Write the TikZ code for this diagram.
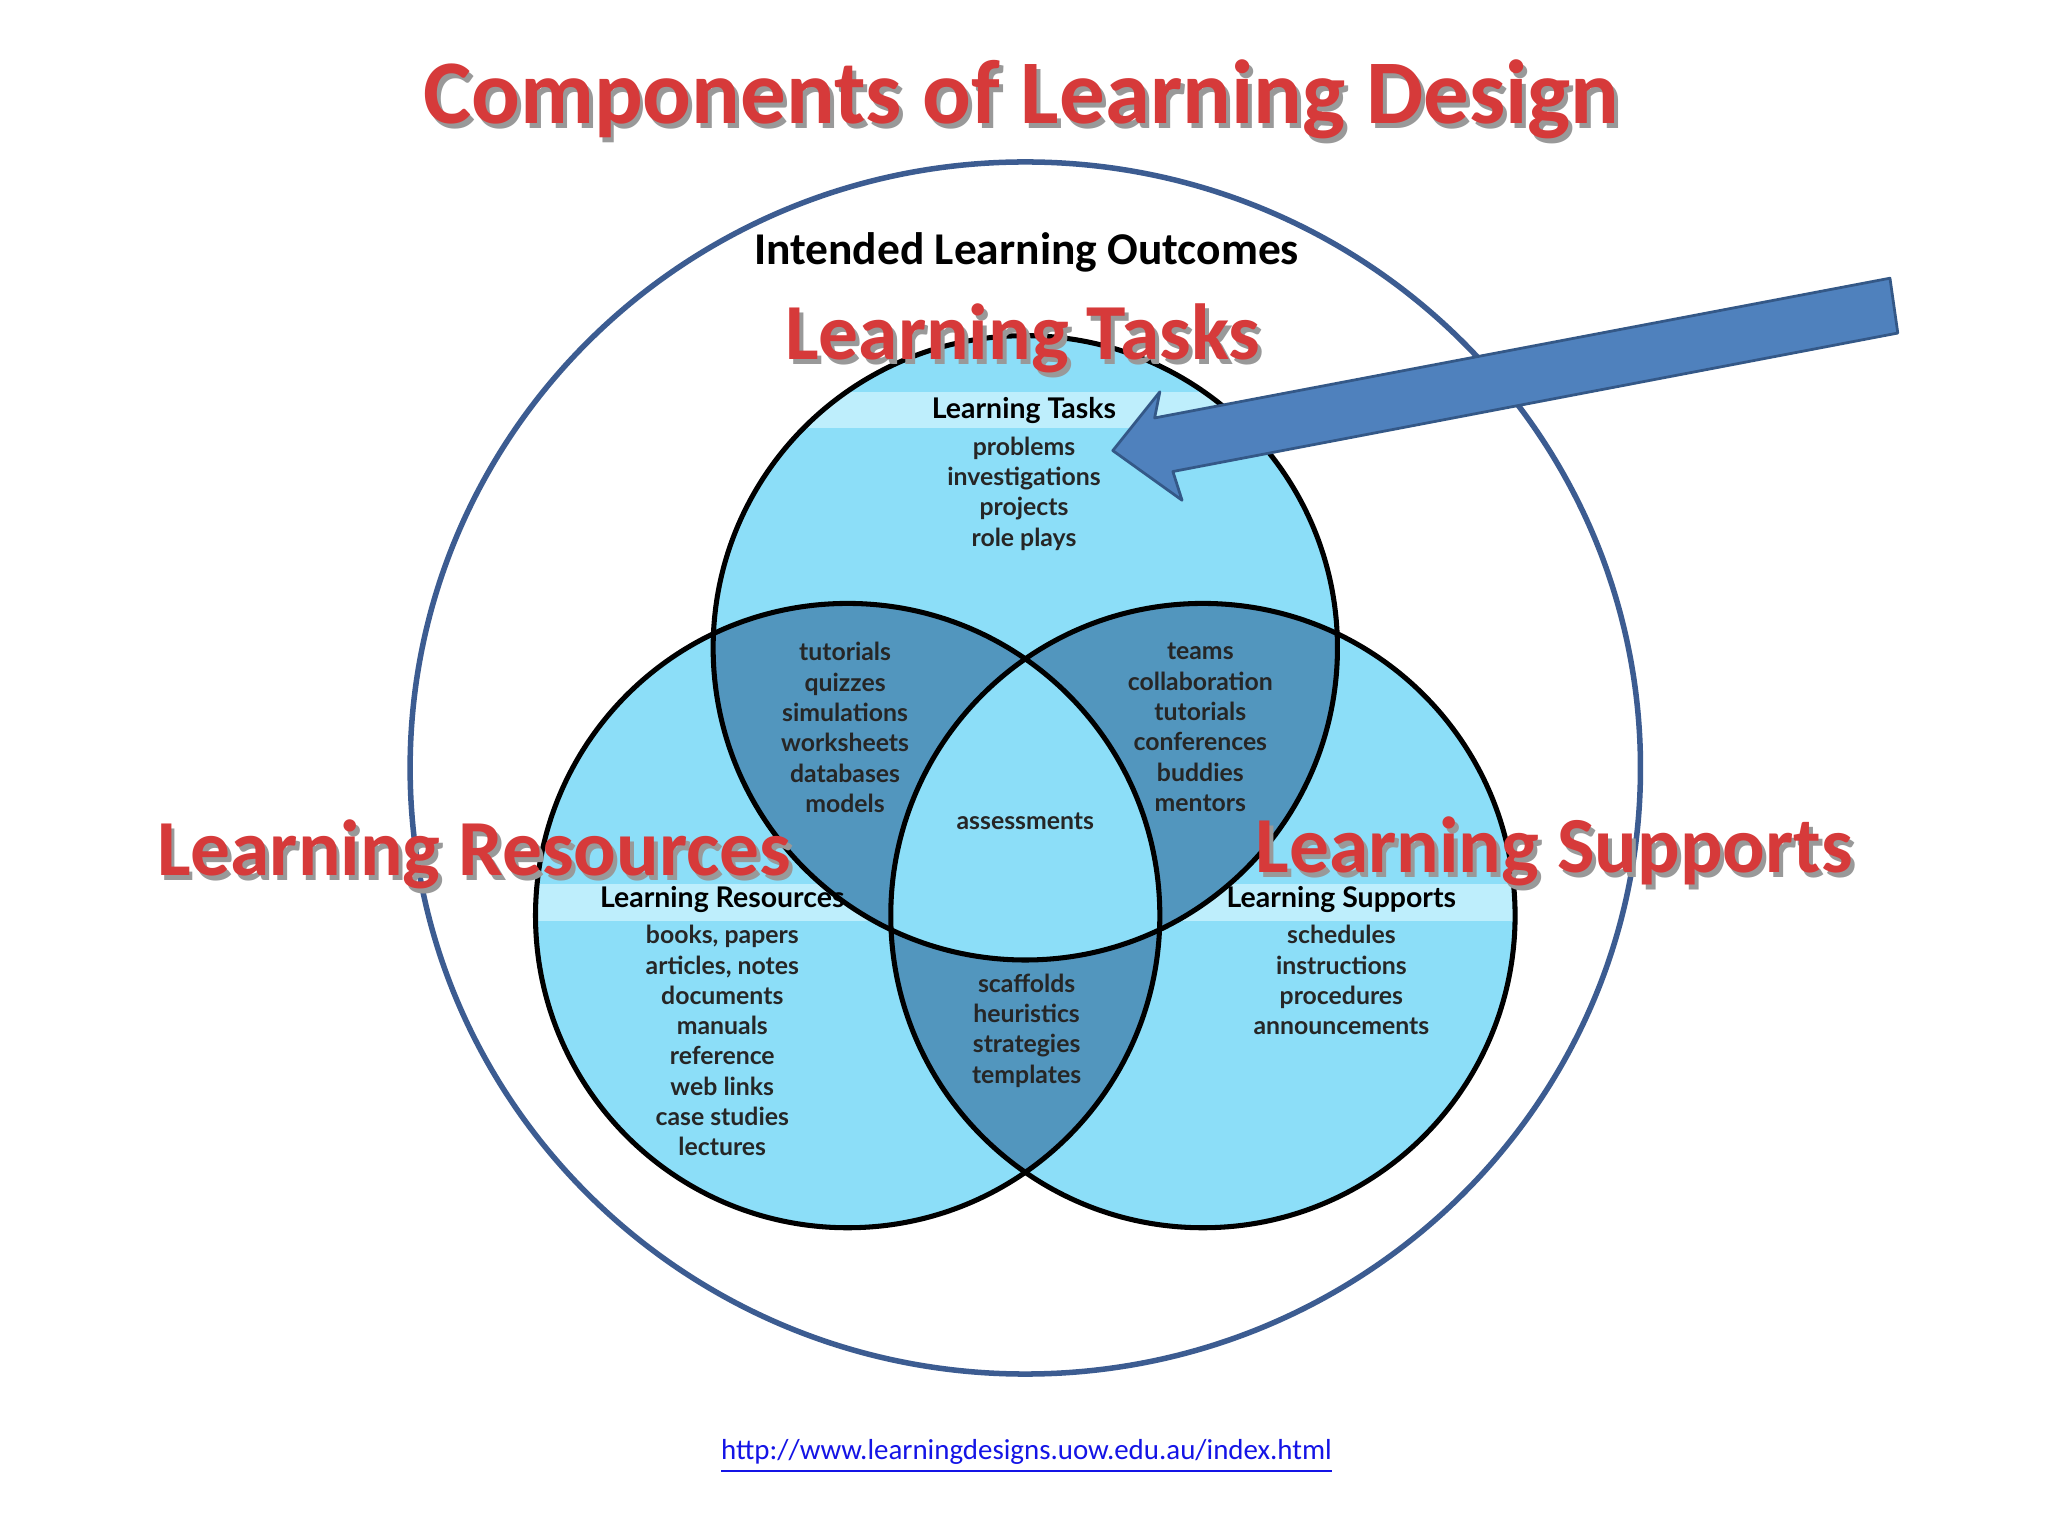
\documentclass[tikz,border=0pt]{standalone}
\usepackage{fontspec}
\setmainfont{Carlito}
\newfontfamily\venn{Lato}
\newfontfamily\vennb{Lato Black}
\definecolor{lightc}{RGB}{140,222,248}
\definecolor{bandc}{RGB}{190,238,252}
\definecolor{darkc}{RGB}{82,150,190}
\definecolor{outerc}{RGB}{60,92,145}
\definecolor{redt}{RGB}{214,58,58}
\definecolor{arrowc}{RGB}{79,129,189}
\definecolor{arrowd}{RGB}{52,88,135}
\definecolor{urlc}{RGB}{20,20,230}
\tikzset{
 bigred/.style={font=\fontsize{17.3}{20}\selectfont\bfseries,text=redt},
 shadowt/.style={font=\fontsize{17.3}{20}\selectfont\bfseries,text=black!40},
 vtxt/.style={font=\venn\fontsize{5.4}{6.6}\selectfont\bfseries,align=center,text=black!85},
 vhead/.style={font=\venn\fontsize{6.2}{7}\selectfont\bfseries,text=black},
 ring/.style={draw=black,line width=1.1pt}
}
\begin{document}
\begin{tikzpicture}[x=0.01cm,y=-0.01cm]
\useasboundingbox (0,0) rectangle (1568,1176);
\fill[white] (0,0) rectangle (1568,1176);
% outer circle
\draw[outerc,line width=1.2pt] (785,588) ellipse (471 and 464);
\coordinate (T) at (785,496);
\coordinate (L) at (649,701);
\coordinate (R) at (921,701);
\def\rr{239}
\fill[lightc] (T) circle (\rr); \fill[lightc] (L) circle (\rr); \fill[lightc] (R) circle (\rr);
\begin{scope}\clip (T) circle (\rr); \fill[bandc] (500,300) rectangle (1050,328);\end{scope}
\begin{scope}\clip (L) circle (\rr); \fill[bandc] (400,677) rectangle (900,705);\end{scope}
\begin{scope}\clip (R) circle (\rr); \fill[bandc] (650,677) rectangle (1200,705);\end{scope}
\begin{scope}\clip (T) circle (\rr); \fill[darkc] (L) circle (\rr); \fill[darkc] (R) circle (\rr);\end{scope}
\begin{scope}\clip (L) circle (\rr); \fill[darkc] (R) circle (\rr);\end{scope}
\begin{scope}\clip (T) circle (\rr); \clip (L) circle (\rr); \fill[lightc] (R) circle (\rr);\end{scope}
\draw[ring] (T) circle (\rr); \draw[ring] (L) circle (\rr); \draw[ring] (R) circle (\rr);
% texts in circles
\node[vhead] (ht) at (784,314) {Learning Tasks};
\node[vtxt,anchor=north] (tt) at (784,322) {problems\\investigations\\projects\\role plays};
\node[vtxt] (tl) at (647,557) {tutorials\\quizzes\\simulations\\worksheets\\databases\\models};
\node[vtxt] (tr) at (919,557) {teams\\collaboration\\tutorials\\conferences\\buddies\\mentors};
\node[vtxt] (ct) at (785,629) {assessments};
\node[vhead] (hl) at (553,689) {Learning Resources};
\node[vtxt,anchor=north] (lt) at (553,696) {books, papers\\articles, notes\\documents\\manuals\\reference\\web links\\case studies\\lectures};
\node[vhead] (hr) at (1027,689) {Learning Supports};
\node[vtxt,anchor=north] (rt) at (1027,696) {schedules\\instructions\\procedures\\announcements};
\node[vtxt] (bt) at (786,789) {scaffolds\\heuristics\\strategies\\templates};
% big red labels
\node[shadowt] at (786,263) {Learning Tasks};
\node[bigred] (lT) at (783,259) {Learning Tasks};
\node[shadowt] at (366,658) {Learning Resources};
\node[bigred] (lR) at (363,654) {Learning Resources};
\node[shadowt] at (1193,656) {Learning Supports};
\node[bigred] (lS) at (1190,652) {Learning Supports};
% title
\node[font=\fontsize{19.8}{24}\selectfont\bfseries,text=black!40] at (785,80) {Components of Learning Design};
\node[font=\fontsize{19.8}{24}\selectfont\bfseries,text=redt] (title) at (782,76) {Components of Learning Design};
\node[font=\fontsize{9.9}{12}\selectfont\bfseries] (ilo) at (786,193) {Intended Learning Outcomes};
% arrow
\fill[arrowc,draw=arrowd,line width=0.6pt,line join=round] (1447,213) -- (1453,255) -- (898,361) -- (905,383) -- (852,345) -- (888,300) -- (884,320) -- cycle;
% url
\node[font=\fontsize{6.3}{7}\selectfont,text=urlc] (url) at (786,1115) {\underline{http://www.learningdesigns.uow.edu.au/index.html}};
\end{tikzpicture}
\end{document}
